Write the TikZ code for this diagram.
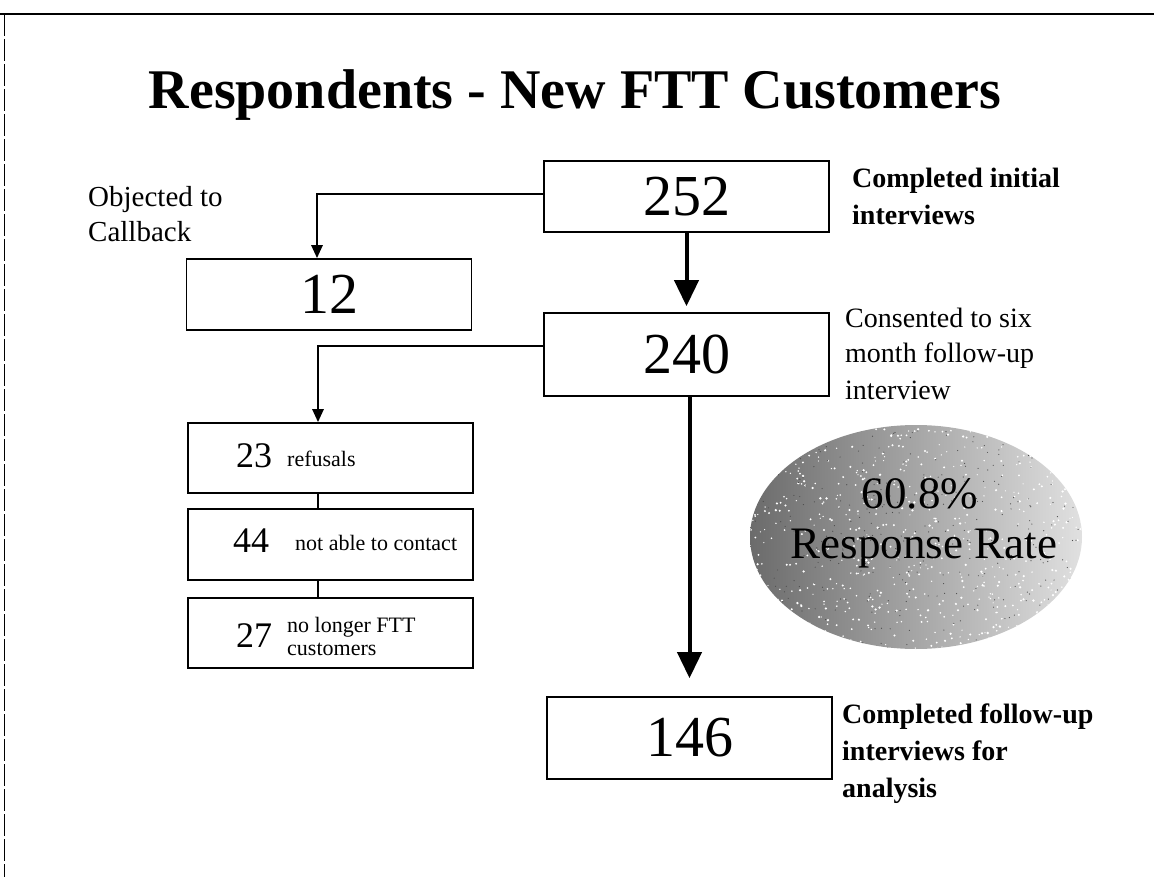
\documentclass[tikz,border=0pt]{standalone}
\usepackage{fontspec}
\setmainfont{Liberation Serif}
\usetikzlibrary{shapes.geometric,arrows.meta,calc}
\begin{document}
\begin{tikzpicture}[x=1pt,y=-1pt,
  box/.style={draw, line width=1.6pt, minimum width=285pt, inner sep=0pt, fill=white},
  bignum/.style={font=\fontsize{58}{58}\selectfont},
  sidebold/.style={font=\bfseries\fontsize{28}{37}\selectfont, align=left, anchor=base west, inner sep=0pt},
  sidereg/.style={font=\fontsize{28}{36}\selectfont, align=left, anchor=base west, inner sep=0pt},
  smallnum/.style={font=\fontsize{36}{36}\selectfont, anchor=base west, inner sep=0pt},
  smalltxt/.style={font=\fontsize{22}{23}\selectfont, align=left, anchor=base west, inner sep=0pt},
  thickarrow/.style={line width=4pt, -{Triangle[width=24pt,length=26pt]}},
  thinarrow/.style={line width=2.6pt, -{Triangle[width=11pt,length=13pt]}},
  link/.style={line width=2.6pt}
]
\useasboundingbox (0,0) rectangle (1154,877);
% frame
\draw[line width=1.8pt] (0,14) -- (1154,14);
\draw[line width=1pt, dash pattern=on 22pt off 3pt] (4,14) -- (4,877);

% title
\node[font=\bfseries\fontsize{56}{56}\selectfont, anchor=base] (title) at (575,109) {Respondents - New FTT Customers};

% main boxes
\node[box, minimum height=71pt, bignum] (n252) at (686.5,196.5) {252};
\node[box, minimum height=83pt, bignum] (n240) at (686.5,354.5) {240};
\node[box, minimum height=82pt, bignum] (n146) at (689.5,738) {146};
\node[box, minimum height=71pt, bignum] (n12) at (329,294.5) {12};

% side labels (anchored at the baseline of their last line)
\node[sidebold] (lab252) at (852,225) {Completed initial\\interviews};
\node[sidereg] (lab240) at (845,399) {Consented to six\\month follow-up\\interview};
\node[sidebold] (lab146) at (842,797) {Completed follow-up\\interviews for\\analysis};
\node[font=\fontsize{29}{35}\selectfont, align=left, anchor=base west, inner sep=0pt] (lab12) at (88,242) {Objected to\\Callback};

% breakdown boxes
\node[box, minimum height=70pt] (n23) at (330.5,458) {};
\node[box, minimum height=71pt] (n44) at (330.5,544.5) {};
\node[box, minimum height=70pt] (n27) at (330.5,633) {};
\node[smallnum] (t23) at (236,467) {23};
\node[smalltxt] (s23) at (287,466) {refusals};
\node[smallnum] (t44) at (233,552) {44};
\node[smalltxt] (s44) at (295,550) {not able to contact};
\node[smallnum] (t27) at (236,647) {27};
\node[smalltxt] (s27) at (287,655) {no longer FTT\\customers};

% response ellipse
\node[ellipse, minimum width=332pt, minimum height=224pt, inner sep=0pt,
      left color=black!58, middle color=black!25, right color=black!12] (resp) at (916,537) {};
\begin{scope}
  \clip (916,537) ellipse (166pt and 112pt);
  \pgfmathsetseed{7}
  \foreach \i in {1,...,700} {
    \fill[white] ({916+166*rand},{537+112*rand}) circle ({0.6+0.7*rnd});
  }
  \foreach \i in {1,...,350} {
    \fill[black!70] ({916+166*rand},{537+112*rand}) circle (0.6);
  }
\end{scope}
\node[font=\fontsize{45}{45}\selectfont, anchor=base, inner sep=0pt] (rate) at (920,508) {60.8\%};
\node[font=\fontsize{45}{45}\selectfont, anchor=base, inner sep=0pt] (ratelab) at (924,558) {Response Rate};

% connectors
\draw[thickarrow, shorten >=6pt] (n252.south) -- (n240.north);
\draw[thickarrow, shorten >=18pt] ([xshift=3pt]n240.south) -- ([xshift=3pt]n240.south |- n146.north);
\draw[thinarrow] ([yshift=2.5pt]n252.west) -| ([xshift=-12pt]n12.north);
\draw[thinarrow] ([yshift=8.5pt]n240.west) -| ([xshift=-12.5pt]n23.north);
\draw[link] ([xshift=-12.5pt]n23.south) -- ([xshift=-12.5pt]n44.north);
\draw[link] ([xshift=-12.5pt]n44.south) -- ([xshift=-12.5pt]n27.north);
\end{tikzpicture}
\end{document}
